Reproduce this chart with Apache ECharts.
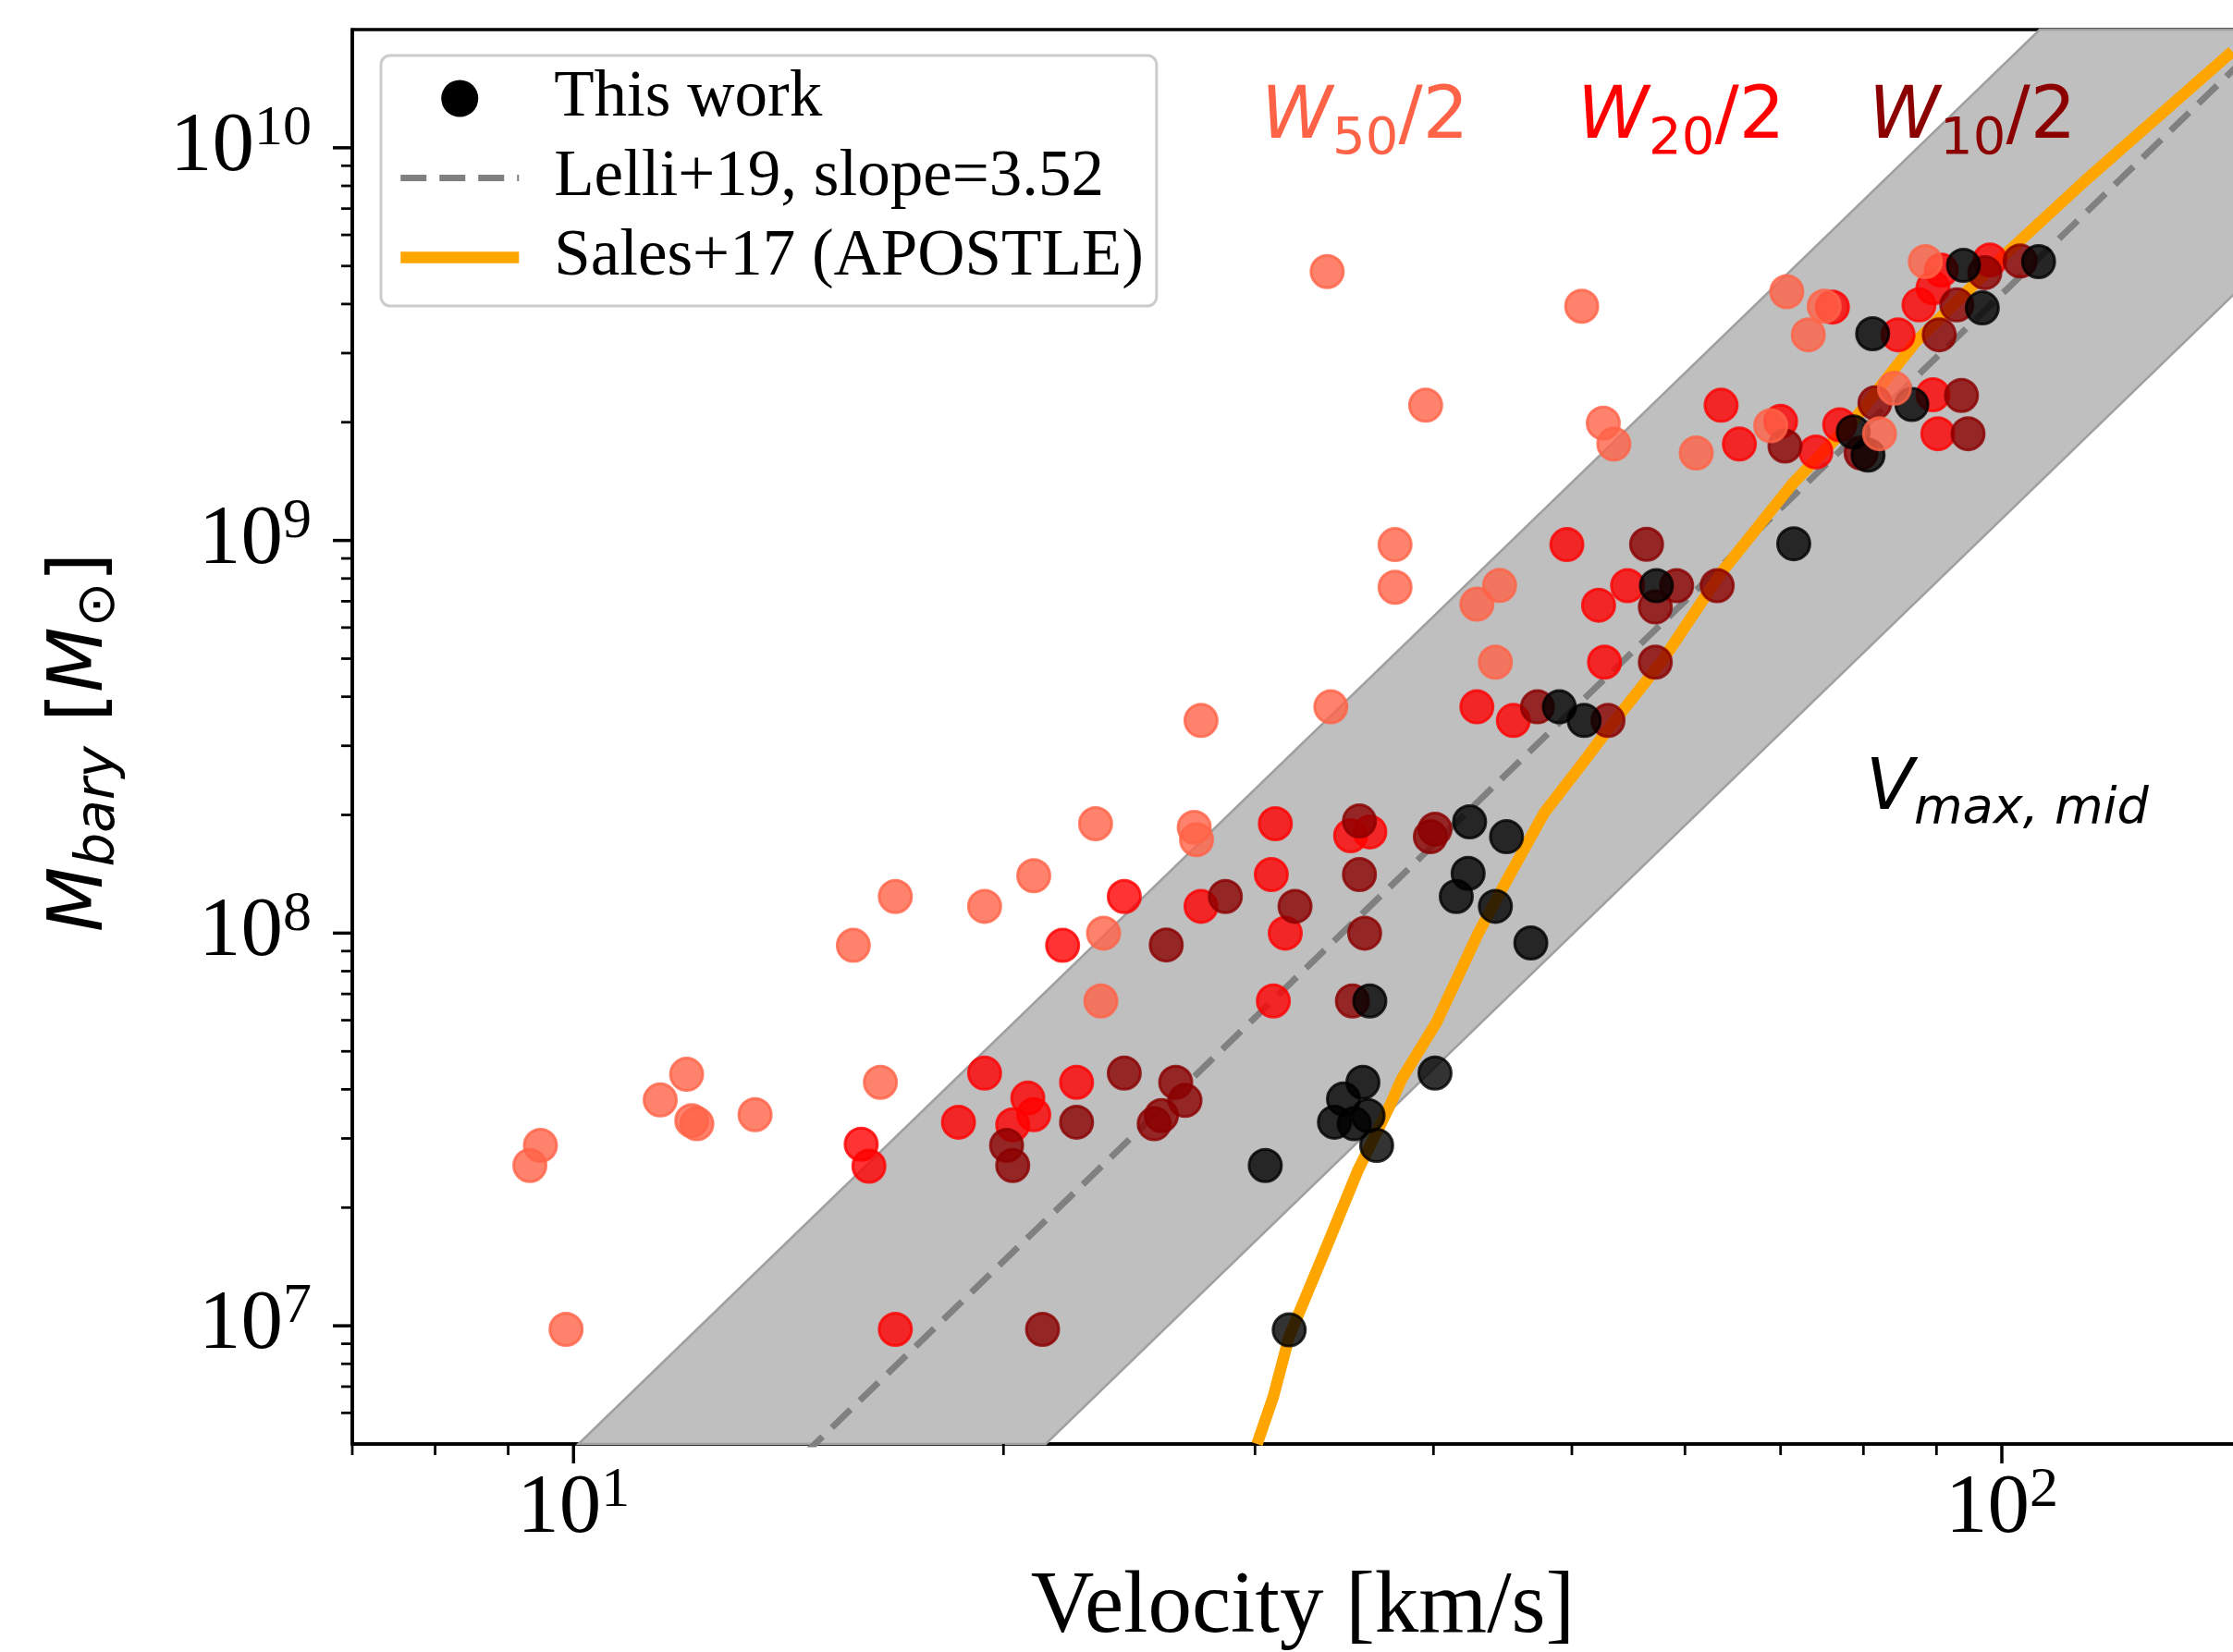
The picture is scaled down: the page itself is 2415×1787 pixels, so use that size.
<!DOCTYPE html>
<html><head><meta charset="utf-8">
<script src="https://cdn.jsdelivr.net/npm/echarts@6/dist/echarts.min.js"></script>
<style>html,body{margin:0;padding:0;background:#fff;}#c{width:2415px;height:1787px;}</style>
</head><body><div id="c"></div>
<script>
// ---- axis ranges and ticks ----
const xRange = [7, 150];
const yRange = [5e6, 2e10];
const xMajorTicks = [10, 100];
const xMinorTicks = [7, 8, 9, 20, 30, 40, 50, 60, 70, 80, 90];
const yMajorTicks = [1e7, 1e8, 1e9, 1e10];
const yMinorTicks = [6e6, 7e6, 8e6, 9e6, 2e7, 3e7, 4e7, 5e7, 6e7, 7e7, 8e7, 9e7,
  2e8, 3e8, 4e8, 5e8, 6e8, 7e8, 8e8, 9e8, 2e9, 3e9, 4e9, 5e9, 6e9, 7e9, 8e9, 9e9];

// ---- data: [velocity km/s, M_bary Msun] ----
const w50 = [[33.7,4.84e9],[50.8,3.95e9],[39.5,2.21e9],[52.6,1.99e9],[53.5,1.76e9],[37.6,9.76e8],[37.6,7.6e8],
  [44.5,7.68e8],[42.9,6.88e8],[44.2,4.9e8],[27.5,3.48e8],[33.9,3.77e8],[88.4,5.13e9],[70.7,4.3e9],[75.1,3.95e9],
  [73.2,3.34e9],[84.1,2.44e9],[82.1,1.87e9],[68.9,1.96e9],[61.1,1.67e9],[23.2,1.9e8],[27.2,1.86e8],[27.3,1.73e8],
  [21.0,1.4e8],[19.4,1.17e8],[16.8,1.24e8],[15.7,9.31e7],[23.5,1.0e8],[23.4,6.72e7],[12.0,4.37e7],[11.5,3.76e7],
  [12.2,3.27e7],[12.1,3.33e7],[13.4,3.45e7],[16.4,4.17e7],[9.48,2.88e7],[9.32,2.56e7],[9.88,9.79e6]];
const w20 = [[22.0,9.31e7],[15.9,2.9e7],[16.1,2.55e7],[19.4,4.4e7],[18.6,3.3e7],[20.8,3.8e7],[21.0,3.45e7],
  [20.3,3.25e7],[22.5,4.17e7],[16.8,9.79e6],[31.0,1.9e8],[35.0,1.77e8],[36.1,1.81e8],[30.8,1.41e8],[24.3,1.24e8],
  [27.5,1.17e8],[31.5,1.0e8],[30.9,6.72e7],[49.6,9.76e8],[54.7,7.67e8],[52.2,6.84e8],[52.7,4.9e8],[42.9,3.77e8],
  [45.5,3.48e8],[63.6,2.21e9],[65.5,1.76e9],[70.0,2.01e9],[74.1,1.68e9],[89.5,2.35e9],[90.2,1.87e9],[90.7,4.88e9],
  [98.1,5.18e9],[76.1,3.93e9],[84.6,3.34e9],[87.5,3.98e9],[89.5,4.4e9],[77.0,1.97e9]];
const w10 = [[20.1,2.88e7],[20.3,2.56e7],[22.5,3.3e7],[21.3,9.79e6],[35.5,1.93e8],[40.1,1.84e8],[39.8,1.76e8],
  [35.5,1.41e8],[28.6,1.24e8],[32.0,1.17e8],[35.8,1.0e8],[26.0,9.33e7],[35.1,6.72e7],[24.3,4.4e7],[26.4,4.17e7],
  [26.8,3.75e7],[25.8,3.43e7],[25.5,3.27e7],[56.4,9.78e8],[57.2,4.9e8],[47.3,3.77e8],[53.0,3.48e8],[59.2,7.67e8],
  [63.2,7.67e8],[57.2,6.77e8],[70.5,1.74e9],[81.5,2.24e9],[93.7,2.34e9],[94.7,1.87e9],[79.7,1.67e9],[97.3,4.81e9],
  [103.0,5.15e9],[90.4,3.34e9],[93.0,3.98e9]];
const thisWork = [[94.0,5.02e9],[106.1,5.13e9],[96.9,3.91e9],[81.2,3.36e9],[86.5,2.22e9],[78.7,1.89e9],[80.6,1.65e9],
  [71.5,9.81e8],[49.0,3.77e8],[51.0,3.48e8],[42.4,1.92e8],[45.0,1.76e8],[42.3,1.42e8],[41.5,1.24e8],[44.2,1.17e8],
  [46.8,9.44e7],[36.1,6.72e7],[40.1,4.4e7],[35.7,4.17e7],[34.6,3.78e7],[36.0,3.43e7],[34.1,3.3e7],[35.2,3.27e7],
  [36.5,2.88e7],[30.5,2.56e7],[31.7,9.76e6],[57.3,7.67e8]];
const sales17 = [[30.1,5.0e6],[30.9,6.6e6],[31.7,9.4e6],[33.5,1.52e7],[35.4,2.48e7],[37.3,3.65e7],[38.0,4.25e7],
  [40.2,5.93e7],[43.0,1.0e8],[44.8,1.32e8],[47.8,2.02e8],[50.6,2.64e8],[53.6,3.48e8],[57.8,4.92e8],[63.6,8.27e8],
  [71.3,1.39e9],[78.8,2.03e9],[87.0,3.2e9],[99.4,5.15e9],[114.6,8.3e9],[145,1.76e10]];
const lelli19 = [[14.5,4.7e6],[150,1.77e10]];
const lelliBand = [[10.08,5e6],[106.3,2e10],[150,2e10],[150,4.73e9],[21.41,5e6]];

const legendNames = ['This work', 'Lelli+19, slope=3.52', 'Sales+17 (APOSTLE)'];

// ---- helpers ----
const SERIF = 'Liberation Serif';
const SANS = 'DejaVu Sans';
function powLabel(v) {
  const l = Math.log10(v), e = Math.round(l);
  if (Math.abs(l - e) > 1e-6) return '';
  return '{b|10}{s|' + e + '}';
}
const tickRich = {
  b: {fontFamily: SERIF, fontSize: 91, lineHeight: 102, color: '#000'},
  s: {fontFamily: SERIF, fontSize: 62, lineHeight: 62, verticalAlign: 'top', color: '#000'}
};
function scatter(name, data, rgb, z) {
  return {
    type: 'scatter', name, data, symbol: 'circle', symbolSize: 35, z,
    itemStyle: {color: 'rgba(' + rgb + ',0.8)', borderColor: 'rgba(' + rgb + ',0.8)', borderWidth: 3, opacity: 1},
    emphasis: {disabled: true}, silent: true
  };
}
const xTickData = xMajorTicks.map(v => [v, yRange[0], 21]).concat(xMinorTicks.map(v => [v, yRange[0], 12]));
const yTickData = yMajorTicks.map(v => [xRange[0], v, 21]).concat(yMinorTicks.map(v => [xRange[0], v, 12]));

const dashStyle = {color: '#808080', width: 7, type: [28, 14]};
const orangeStyle = {color: '#FFA500', width: 12.5};

const chart = echarts.init(document.getElementById('c'), null, {renderer: 'canvas'});
chart.setOption({
  animation: false,
  backgroundColor: '#fff',
  grid: {left: 381, top: 32, right: -22, bottom: 225, show: true, borderColor: '#000', borderWidth: 3.5,
         backgroundColor: 'transparent', outerBoundsMode: 'none', containLabel: false},
  xAxis: {
    type: 'log', logBase: 10, min: xRange[0], max: xRange[1],
    axisLine: {show: true, lineStyle: {color: '#000', width: 3.5}},
    axisTick: {show: false}, splitLine: {show: false}, minorTick: {show: false},
    axisLabel: {show: true, margin: 20, formatter: powLabel, rich: tickRich, showMinLabel: false, showMaxLabel: false},
    name: 'Velocity [km/s]', nameLocation: 'middle', nameGap: 126,
    nameTextStyle: {fontFamily: SERIF, fontSize: 95, lineHeight: 104, color: '#000'}
  },
  yAxis: {
    type: 'log', logBase: 10, min: yRange[0], max: yRange[1],
    axisLine: {show: true, lineStyle: {color: '#000', width: 3.5}},
    axisTick: {show: false}, splitLine: {show: false}, minorTick: {show: false},
    axisLabel: {show: true, margin: 44, formatter: powLabel, rich: tickRich, showMinLabel: false, showMaxLabel: false}
  },
  legend: {
    show: true, orient: 'vertical', left: 412, top: 60,
    data: [
      {name: legendNames[0], icon: 'circle', itemStyle: {color: '#000', borderWidth: 0, opacity: 1}},
      {name: legendNames[1], itemStyle: {opacity: 0}, lineStyle: dashStyle},
      {name: legendNames[2], itemStyle: {opacity: 0}, lineStyle: orangeStyle}
    ],
    itemWidth: 128, itemHeight: 40, itemGap: 15,
    padding: [11, 14, 17, 15],
    backgroundColor: 'rgba(255,255,255,0.8)', borderColor: '#cccccc', borderWidth: 3, borderRadius: 10,
    textStyle: {fontFamily: SERIF, fontSize: 71, color: '#000', padding: [0, 0, 0, 33]},
    selectedMode: false
  },
  graphic: [
    {type: 'text', x: 1364, y: 129, z: 100, style: {
      text: '{w|W}{s|50}{n|/2}', align: 'left', verticalAlign: 'middle', fill: '#FF6347',
      rich: {w: {fontFamily: SANS, fontStyle: 'italic', fontSize: 78, lineHeight: 100, fill: '#FF6347'},
             s: {fontFamily: SANS, fontSize: 56, lineHeight: 56, verticalAlign: 'bottom', fill: '#FF6347'},
             n: {fontFamily: SANS, fontSize: 78, lineHeight: 100, fill: '#FF6347'}}}},
    {type: 'text', x: 1706, y: 129, z: 100, style: {
      text: '{w|W}{s|20}{n|/2}', align: 'left', verticalAlign: 'middle', fill: '#FF0000',
      rich: {w: {fontFamily: SANS, fontStyle: 'italic', fontSize: 78, lineHeight: 100, fill: '#FF0000'},
             s: {fontFamily: SANS, fontSize: 56, lineHeight: 56, verticalAlign: 'bottom', fill: '#FF0000'},
             n: {fontFamily: SANS, fontSize: 78, lineHeight: 100, fill: '#FF0000'}}}},
    {type: 'text', x: 2021, y: 129, z: 100, style: {
      text: '{w|W}{s|10}{n|/2}', align: 'left', verticalAlign: 'middle', fill: '#8B0000',
      rich: {w: {fontFamily: SANS, fontStyle: 'italic', fontSize: 78, lineHeight: 100, fill: '#8B0000'},
             s: {fontFamily: SANS, fontSize: 56, lineHeight: 56, verticalAlign: 'bottom', fill: '#8B0000'},
             n: {fontFamily: SANS, fontSize: 78, lineHeight: 100, fill: '#8B0000'}}}},
    {type: 'text', x: 2018, y: 855, z: 100, style: {
      text: '{w|V}{s|max, mid}', align: 'left', verticalAlign: 'middle', fill: '#000',
      rich: {w: {fontFamily: SANS, fontStyle: 'italic', fontSize: 76, lineHeight: 96, fill: '#000'},
             s: {fontFamily: SANS, fontStyle: 'italic', fontSize: 54, lineHeight: 54, verticalAlign: 'bottom', fill: '#000'}}}},
    {type: 'text', x: 89, y: 803, rotation: Math.PI / 2, z: 100, style: {
      text: '{m|M}{s|bary}{n| [}{m|M}{s|⊙}{n|]}', align: 'center', verticalAlign: 'middle', fill: '#000',
      rich: {m: {fontFamily: SANS, fontStyle: 'italic', fontSize: 82, lineHeight: 96, fill: '#000'},
             s: {fontFamily: SANS, fontStyle: 'italic', fontSize: 58, lineHeight: 58, verticalAlign: 'bottom', fill: '#000'},
             n: {fontFamily: SANS, fontSize: 82, lineHeight: 96, fill: '#000'}}}}
  ],
  series: [
    {type: 'custom', name: 'band', data: lelliBand, z: 1, silent: true,
     renderItem: function (params, api) {
       if (params.dataIndex !== 0) return null;
       const pts = lelliBand.map(p => api.coord(p));
       return {type: 'polygon', shape: {points: pts}, style: {fill: '#bfbfbf', stroke: '#a0a0a0', lineWidth: 2.5}};
     }},
    {type: 'line', name: legendNames[1], data: lelli19, symbol: 'none', z: 3, silent: true,
     lineStyle: dashStyle, itemStyle: {color: '#808080'}},
    {type: 'line', name: legendNames[2], data: sales17, symbol: 'none', z: 4, silent: true,
     lineStyle: orangeStyle, itemStyle: {color: '#FFA500'}},
    scatter('W20/2', w20, '255,0,0', 5),
    scatter('W10/2', w10, '139,0,0', 6),
    scatter(legendNames[0], thisWork, '0,0,0', 7),
    scatter('W50/2', w50, '255,99,71', 8),
    {type: 'custom', name: 'xticks', data: xTickData, z: 20, silent: true, clip: false,
     renderItem: function (params, api) {
       const cs = params.coordSys;
       const p = api.coord([api.value(0), api.value(1)]);
       const y0 = cs.y + cs.height, len = api.value(2);
       return {type: 'line', shape: {x1: p[0], y1: y0, x2: p[0], y2: y0 + len},
               style: {stroke: '#000', lineWidth: len > 15 ? 3.5 : 2.8}};
     }},
    {type: 'custom', name: 'yticks', data: yTickData, z: 20, silent: true, clip: false,
     renderItem: function (params, api) {
       const cs = params.coordSys;
       const p = api.coord([api.value(0), api.value(1)]);
       const x0 = cs.x, len = api.value(2);
       return {type: 'line', shape: {x1: x0, y1: p[1], x2: x0 - len, y2: p[1]},
               style: {stroke: '#000', lineWidth: len > 15 ? 3.5 : 2.8}};
     }}
  ]
});
</script></body></html>
